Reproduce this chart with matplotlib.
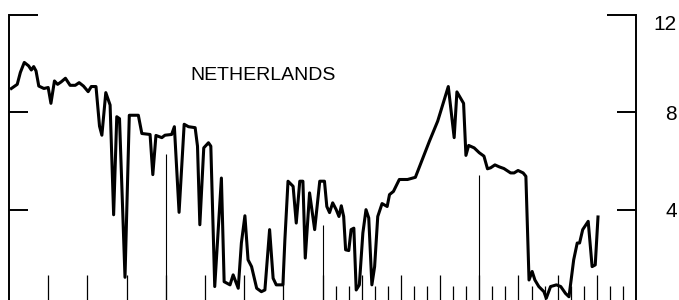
import numpy as np
import matplotlib
matplotlib.use("Agg")
import matplotlib.pyplot as plt
from matplotlib.ticker import FixedLocator, FixedFormatter

# time in years from start of record, value in per cent
t = [0.06, 0.21, 0.29, 0.39, 0.50, 0.57, 0.63, 0.69, 0.76, 0.89,
     1.00, 1.07, 1.16, 1.24, 1.33, 1.44, 1.56, 1.69, 1.79, 1.90,
     2.02, 2.10, 2.22, 2.31, 2.37, 2.47, 2.58, 2.67, 2.75, 2.82,
     2.96, 3.07, 3.30, 3.39, 3.60, 3.67, 3.75, 3.90, 3.98, 4.15,
     4.22, 4.34, 4.47, 4.58, 4.75, 4.81, 4.87, 4.97, 5.09, 5.15,
     5.25, 5.42, 5.49, 5.64, 5.72, 5.85, 5.93, 6.02, 6.10, 6.19,
     6.32, 6.44, 6.53, 6.65, 6.74, 6.82, 6.99, 7.04, 7.12, 7.25,
     7.33, 7.42, 7.50, 7.56, 7.67, 7.73, 7.80, 7.93, 8.05, 8.11,
     8.18, 8.26, 8.35, 8.42, 8.48, 8.54, 8.59, 8.67, 8.73, 8.80,
     8.86, 8.94, 9.03, 9.11, 9.18, 9.26, 9.33, 9.41, 9.52, 9.65,
     9.71, 9.81, 9.96, 10.17, 10.37, 10.73, 10.94, 11.21, 11.36, 11.43,
     11.60, 11.66, 11.73, 11.87, 12.00, 12.12, 12.21, 12.29, 12.40, 12.51,
     12.63, 12.80, 12.89, 12.99, 13.12, 13.19, 13.27, 13.35, 13.42, 13.52,
     13.65, 13.71, 13.82, 13.97, 14.08, 14.20, 14.29, 14.41, 14.50, 14.56,
     14.64, 14.78, 14.88, 14.96, 15.03]
rate = [8.98, 9.15, 9.64, 10.05, 9.91, 9.74, 9.88, 9.70, 9.08, 8.98,
        9.02, 8.37, 9.29, 9.15, 9.25, 9.40, 9.11, 9.11, 9.22, 9.08,
        8.85, 9.06, 9.06, 7.43, 7.06, 8.81, 8.30, 3.79, 7.82, 7.74,
        1.22, 7.88, 7.88, 7.13, 7.09, 5.44, 7.05, 6.96, 7.06, 7.09,
        7.41, 3.89, 7.51, 7.41, 7.37, 6.61, 3.38, 6.54, 6.75, 6.61,
        0.84, 5.30, 1.04, 0.91, 1.32, 0.77, 2.63, 3.75, 1.94, 1.66,
        0.77, 0.63, 0.70, 3.18, 1.18, 0.91, 0.91, 2.76, 5.17, 4.96,
        3.45, 5.17, 5.17, 2.01, 4.69, 4.00, 3.18, 5.17, 5.17, 4.13,
        3.88, 4.28, 4.00, 3.72, 4.16, 3.72, 2.35, 2.32, 3.18, 3.24,
        0.70, 0.91, 3.04, 4.00, 3.66, 0.91, 1.66, 3.72, 4.25, 4.13,
        4.62, 4.75, 5.24, 5.24, 5.33, 6.82, 7.64, 9.06, 6.96, 8.84,
        8.37, 6.23, 6.64, 6.54, 6.34, 6.20, 5.68, 5.72, 5.84, 5.76,
        5.69, 5.51, 5.51, 5.61, 5.51, 5.37, 1.11, 1.46, 1.11, 0.84,
        0.63, 0.36, 0.84, 0.91, 0.84, 0.56, 0.42, 1.94, 2.63, 2.63,
        3.18, 3.52, 1.66, 1.73, 3.70]

# marker lines standing up from the time axis
marker_t = [4, 8, 12]
marker_top = [6.27, 3.38, 5.44]

year_ticks = list(range(1, 16))
month_ticks = [8 + k / 3 for k in range(1, 24) if k % 3]
y_major = [0, 4, 8]
y_top = [12]

fig = plt.figure(figsize=(6.79, 3.0), dpi=100)
ax = fig.add_axes([9 / 679, -7 / 300, 627 / 679, 292 / 300])

ax.plot(t, rate, color="black", lw=2.2, solid_joinstyle="round")
ax.vlines(marker_t, 0, marker_top, color="black", lw=0.8)

ax.set_xlim(0, 16)
ax.set_ylim(0, 12)
ax.spines["top"].set_visible(False)
for side in ("left", "right", "bottom"):
    ax.spines[side].set_linewidth(1.4)

ax.xaxis.set_major_locator(FixedLocator(year_ticks))
ax.xaxis.set_minor_locator(FixedLocator(month_ticks))
ax.tick_params(axis="x", which="major", direction="in", length=23, width=0.9,
               labelbottom=False)
ax.tick_params(axis="x", which="minor", direction="in", length=15, width=0.9)

ax.yaxis.set_major_locator(FixedLocator(y_major))
ax.yaxis.set_major_formatter(FixedFormatter([str(v) for v in y_major]))
ax.yaxis.set_minor_locator(FixedLocator(y_top))
ax.yaxis.set_minor_formatter(FixedFormatter([str(v) for v in y_top]))
ax.tick_params(axis="y", which="both", direction="in", width=1.4,
               left=True, right=True, labelleft=False, labelright=True,
               pad=29.5, labelsize=15)
ax.tick_params(axis="y", which="major", length=14)
ax.tick_params(axis="y", which="minor", length=21)
for lab in ax.yaxis.get_ticklabels(which="both"):
    lab.set_ha("right")
    lab.set_family("Liberation Sans")
for tk in ax.yaxis.get_minor_ticks():
    tk.label2.set_va("top")

ax.text(4.62, 9.53, "NETHERLANDS", ha="left", va="center",
        fontsize=14, family="Liberation Sans")

fig.savefig("out.png", dpi=100)
